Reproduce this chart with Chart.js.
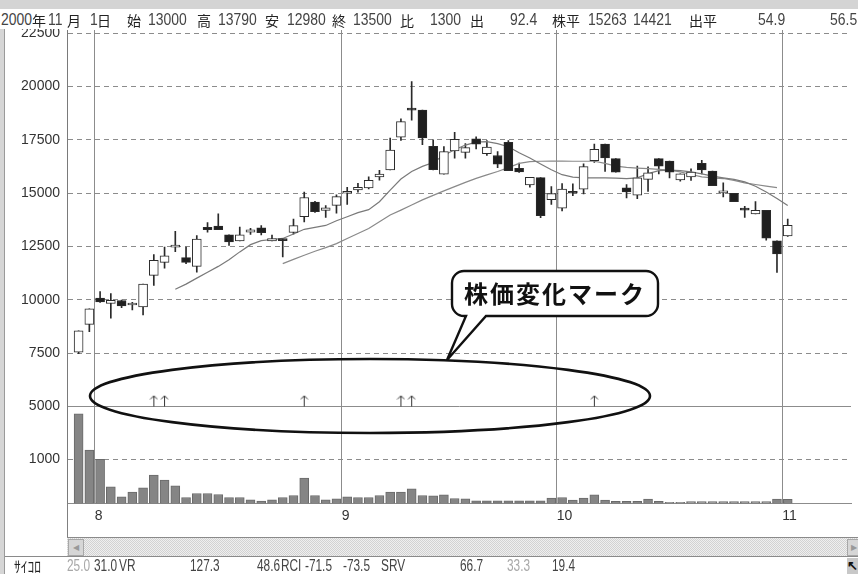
<!DOCTYPE html>
<html>
<head>
<meta charset="utf-8">
<script src="https://cdn.jsdelivr.net/npm/chart.js@4.4.1/dist/chart.umd.min.js"></script>
<style>
html, body { margin: 0; padding: 0; background: #fff; }
#wrap { position: relative; width: 858px; height: 574px; overflow: hidden; background: #fff; }
#chart { position: absolute; left: 0; top: 0; }
.abs { position: absolute; }
.n { position: absolute; font-family: "Liberation Sans", Arial, sans-serif; font-size: 17px; line-height: 18px; color: #444; transform: scaleX(0.82); transform-origin: 0 0; white-space: nowrap; }
.s { position: absolute; font-family: "Liberation Sans", Arial, sans-serif; font-size: 16px; line-height: 16px; color: #444; transform: scaleX(0.74); transform-origin: 0 0; white-space: nowrap; }
.k { position: absolute; font-family: "Noto Sans CJK JP", sans-serif; font-size: 14px; line-height: 18px; color: #222; white-space: nowrap; }
.ks { position: absolute; font-family: "Noto Sans CJK JP", sans-serif; font-size: 15px; line-height: 16px; color: #222; white-space: nowrap; transform: scaleX(0.9); transform-origin: 0 0; }
.g { color: #a8a8a8; }
</style>
</head>
<body>
<div id="wrap">
  <canvas id="chart" width="858" height="574"></canvas>
  <div class="abs" style="left:0;top:0;width:858px;height:9px;background:#d4d4d4;"></div>
  <div class="abs" style="left:0;top:9px;width:858px;height:20px;background:#fff;"></div>
  <div id="header"></div>
  <div class="abs" style="left:0;top:29px;width:4px;height:545px;background:#d6d6d6;border-right:1px solid #9a9a9a;"></div>
  <div class="abs" style="left:67px;top:503px;width:1px;height:34px;background:#808080;"></div>
  <div class="abs" style="left:67px;top:537px;width:791px;height:18px;border-top:1px solid #8a8a8a;border-bottom:1px solid #8a8a8a;background:repeating-conic-gradient(#d2d2d2 0 25%, #efefef 0 50%) 0 0/2px 2px;"></div>
  <div class="abs" style="left:68px;top:539px;width:14px;height:15px;background:#d6d6d6;border:1px solid #a8a8a8;font-size:8px;line-height:15px;text-align:center;color:#999;">&#9664;</div>
  <div class="abs" style="left:847px;top:539px;width:11px;height:15px;background:#d6d6d6;border:1px solid #a8a8a8;font-size:8px;line-height:15px;text-align:center;color:#999;">&#9654;</div>
  <div class="abs" style="left:5px;top:556px;width:853px;height:1px;background:#8a8a8a;"></div>
  <div class="abs" style="left:847px;top:558px;width:11px;height:16px;background:#c8c8c8;font-size:13px;line-height:16px;font-weight:bold;text-align:center;color:#111;">&#8598;</div>
  <div id="status"></div>
  <svg class="abs" style="left:0;top:0;" width="858" height="574">
    <ellipse cx="370" cy="396" rx="280" ry="37" fill="none" stroke="#111" stroke-width="2.6"/>
    <path d="M464,271 H646 A12,12 0 0 1 658,283 V304 A12,12 0 0 1 646,316 H486 L447,360 L466,316 H464 A12,12 0 0 1 452,304 V283 A12,12 0 0 1 464,271 Z" fill="#fff" stroke="#111" stroke-width="2.4"/>
    <text x="555" y="303" text-anchor="middle" font-family="Noto Sans CJK JP" font-weight="bold" font-size="24" letter-spacing="2" fill="#111">株価変化マーク</text>
  </svg>
</div>
<script>
// daily candles, 2000/7/28 .. 2000/11/1
const opens  = [7550, 8850, 10080, 9830, 9970, 9760, 9670, 11150, 11760, 12470,
                11980, 11570, 13400, 13460, 13050, 12770, 13180, 13380, 12770, 12790,
                13160, 13900, 14590, 14200, 14430, 15000, 15160, 15250, 15770, 16090,
                17630, 18950, 18900, 17200, 15890, 16980, 16920, 17550, 16860, 16770,
                17390, 16170, 15390, 15730, 14700, 14300, 15090, 15190, 16530, 17300,
                16620, 15250, 14910, 15650, 16620, 16510, 15630, 15770, 16400, 16040,
                15020, 15000, 14220, 14030, 14200, 12770, 13000];
const highs  = [8550, 9580, 10390, 10300, 9990, 9890, 10740, 12120, 12480, 13210,
                12480, 13020, 13620, 14040, 13050, 13410, 13350, 13480, 13040, 12830,
                13790, 15050, 14620, 14420, 14920, 15280, 15470, 15770, 16070, 17590,
                18490, 20240, 18900, 17500, 17190, 17860, 17330, 17640, 17470, 16950,
                17470, 16410, 15750, 15730, 15310, 15450, 15440, 16380, 17300, 17300,
                16620, 15410, 16270, 16240, 16620, 16510, 15910, 16150, 16540, 16040,
                15490, 15000, 14390, 14610, 14200, 12770, 13790];
const lows   = [7480, 8510, 9880, 9140, 9640, 9530, 9290, 10680, 11490, 12260,
                11700, 11300, 13180, 13290, 12550, 12770, 13070, 13040, 12770, 12010,
                13080, 13660, 14100, 13870, 14060, 14480, 15050, 15200, 15610, 16090,
                17480, 18430, 17280, 16090, 15890, 16640, 16640, 17080, 16770, 16200,
                16060, 15980, 15280, 13860, 14480, 14170, 14890, 14970, 16450, 16020,
                15990, 14780, 14750, 15090, 15910, 15720, 15570, 15600, 15910, 15360,
                14830, 14610, 13870, 14030, 12800, 11290, 12980];
const closes = [8550, 9580, 9900, 9980, 9720, 9770, 10740, 11850, 12060, 12560,
                11760, 12850, 13290, 13290, 12720, 13050, 13280, 13150, 12880, 12780,
                13480, 14800, 14140, 14320, 14840, 15000, 15280, 15610, 15900, 17030,
                18360, 18900, 17590, 16100, 16950, 17530, 17140, 17300, 17170, 16360,
                16060, 16000, 15750, 13950, 14980, 15190, 15000, 16250, 17060, 16660,
                15990, 15060, 15720, 15960, 16270, 15990, 15910, 15990, 16090, 15360,
                15110, 14610, 14210, 14200, 12890, 12160, 13500];
const volumes = [2025, 1205, 1000, 377, 151, 257, 354, 641, 528, 400,
                 135, 226, 226, 203, 135, 135, 84, 54, 84, 135,
                 180, 573, 180, 84, 106, 151, 135, 135, 180, 257,
                 257, 332, 180, 174, 196, 113, 106, 60, 60, 60,
                 60, 60, 60, 60, 122, 135, 77, 122, 196, 77,
                 50, 50, 50, 99, 50, 25, 25, 45, 45, 45,
                 45, 45, 45, 45, 45, 99, 92];

// moving averages as drawn (10 day from day 9, 20 day from day 19)
const ma10From = 9;
const ma10 = [10500, 10740, 11020, 11300, 11570, 11880, 12250, 12590, 12780, 12830,
              12880, 13090, 13310, 13400, 13490, 13710, 13900, 14090, 14230, 14600,
              15150, 15670, 16020, 16260, 16440, 16780, 17040, 17260, 17400, 17420,
              17330, 17180, 16900, 16650, 16370, 16100, 15870, 15760, 15720, 15720,
              15720, 15710, 15690, 15720, 15920, 16060, 16080, 16060, 16000, 15910,
              15800, 15720, 15650, 15530, 15330, 15060, 14750, 14420];
const ma20From = 19;
const ma20 = [11700, 11900, 12090, 12280, 12450, 12640, 12880, 13110, 13350, 13660,
              13980, 14210, 14450, 14690, 14900, 15110, 15310, 15510, 15700, 15860,
              16020, 16200, 16400, 16480, 16500, 16510, 16510, 16500, 16500, 16500,
              16400, 16270, 16210, 16180, 16150, 16120, 16080, 16000, 15880, 15770,
              15720, 15690, 15600, 15490, 15410, 15330, 15260];

const monthStarts = [2, 25, 45, 66];
const monthLabels = ['8', '9', '10', '11'];
const markDays = [7, 8, 21, 30, 31, 48];
const priceTicks = [5000, 7500, 10000, 12500, 15000, 17500, 20000, 22500];
const volumeTicks = [1000];

const header = [
  ['2000', 1, 'n'], ['年', 32, 'k'], ['11', 48, 'n'], ['月', 67, 'k'], ['1', 90, 'n'], ['日', 97, 'k'],
  ['始', 127, 'k'], ['13000', 148, 'n'], ['高', 197, 'k'], ['13790', 218, 'n'],
  ['安', 265, 'k'], ['12980', 287, 'n'], ['終', 332, 'k'], ['13500', 353, 'n'],
  ['比', 400, 'k'], ['1300', 430, 'n'], ['出', 470, 'k'], ['92.4', 510, 'n'],
  ['株平', 552, 'k'], ['15263', 588, 'n'], ['14421', 633, 'n'], ['出平', 689, 'k'],
  ['54.9', 758, 'n'], ['56.5', 830, 'n']
];
const status = [
  ['ｻｲｺﾛ', 14, 'ks'], ['25.0', 67, 's g'], ['31.0', 94, 's'], ['VR', 119, 's'], ['127.3', 190, 's'],
  ['48.6', 257, 's'], ['RCI', 281, 's'], ['-71.5', 305, 's'], ['-73.5', 343, 's'], ['SRV', 381, 's'],
  ['66.7', 460, 's'], ['33.3', 507, 's g'], ['19.4', 552, 's']
];

function putText(id, items, top) {
  const box = document.getElementById(id);
  items.forEach(([t, x, cls]) => {
    const s = document.createElement('span');
    s.className = cls;
    s.textContent = t;
    s.style.left = x + 'px';
    s.style.top = top + 'px';
    box.appendChild(s);
  });
}
putText('header', header, 11);
putText('status', status, 558);

// little up arrow used as point style for the marks
const arrow = document.createElement('canvas');
arrow.width = 9; arrow.height = 12;
const ac = arrow.getContext('2d');
ac.strokeStyle = '#333'; ac.lineWidth = 1;
ac.beginPath();
ac.moveTo(4.5, 1); ac.lineTo(4.5, 12);
ac.moveTo(1, 4.5); ac.lineTo(4.5, 1); ac.lineTo(8, 4.5);
ac.stroke();

const idx = opens.map((_, i) => i);
const gridColor = '#8c8c8c';
const tickFont = { family: 'Liberation Sans', size: 14 };

new Chart(document.getElementById('chart'), {
    type: 'bar',
    data: {
        datasets: [{
            data: markDays.map(i => ({ x: i, y: 5270 })),
            type: 'line', yAxisID: 'y', showLine: false,
            pointStyle: arrow, pointRadius: 6, order: 0
        }, {
            data: idx.map(i => ({ x: i, y: [opens[i], closes[i]] })),
            yAxisID: 'y', grouped: false, order: 1,
            backgroundColor: ctx => closes[ctx.dataIndex] >= opens[ctx.dataIndex] ? '#ffffff' : '#1f1f1f',
            borderColor: '#2a2a2a', borderWidth: 1, borderSkipped: false,
            barThickness: 9, minBarLength: 2
        }, {
            data: ma10.map((v, j) => ({ x: j + ma10From, y: v })),
            type: 'line', yAxisID: 'y', order: 2,
            borderColor: '#7a7a7a', borderWidth: 1.2, pointRadius: 0, tension: 0
        }, {
            data: ma20.map((v, j) => ({ x: j + ma20From, y: v })),
            type: 'line', yAxisID: 'y', order: 2,
            borderColor: '#8a8a8a', borderWidth: 1.2, pointRadius: 0, tension: 0
        }, {
            data: idx.map(i => ({ x: i, y: [lows[i], highs[i]] })),
            yAxisID: 'y', grouped: false, order: 3,
            backgroundColor: '#2a2a2a', borderWidth: 0, barThickness: 1
        }, {
            data: idx.map(i => ({ x: i, y: volumes[i] })),
            yAxisID: 'yv', grouped: false, order: 4,
            backgroundColor: '#858585', borderColor: '#6a6a6a', borderWidth: 1,
            borderSkipped: false, barThickness: 9
        }]
    },
    options: {
        responsive: false,
        animation: false,
        layout: { padding: { left: 5, top: 30, right: 0, bottom: 40.5 } },
        plugins: { legend: { display: false }, tooltip: { enabled: false } },
        scales: {
            x: {
                type: 'linear', min: -1.08, max: 71.89, offset: false,
                grid: { color: gridColor, offset: false, drawTicks: false },
                border: { color: gridColor },
                afterBuildTicks: s => { s.ticks = monthStarts.map(i => ({ value: i - 0.5 })); },
                afterFit: s => { s.height = 30; },
                ticks: {
                    autoSkip: false, maxRotation: 0, align: 'start', padding: 4,
                    color: '#333', font: tickFont,
                    callback: (v, i) => monthLabels[i]
                }
            },
            y: {
                type: 'linear', position: 'left', stack: 'panel', stackWeight: 376.5, weight: 1,
                min: 5000, max: 22655,
                grid: { color: gridColor, drawTicks: false },
                border: { color: '#7a7a7a', dash: ctx => (ctx.tick && ctx.tick.value === 5000) ? [] : [5, 4] },
                afterBuildTicks: s => { s.ticks = priceTicks.map(v => ({ value: v })); },
                afterFit: s => { s.width = 62; },
                ticks: { padding: 7, color: '#333', font: tickFont, callback: v => String(v) }
            },
            yv: {
                type: 'linear', position: 'left', stack: 'panel', stackWeight: 97, weight: 0,
                min: 0, max: 2190,
                grid: { color: gridColor, drawTicks: false },
                border: { color: '#7a7a7a', dash: [5, 4] },
                afterBuildTicks: s => { s.ticks = volumeTicks.map(v => ({ value: v })); },
                afterFit: s => { s.width = 62; },
                ticks: { padding: 7, color: '#333', font: tickFont, callback: v => String(v) }
            }
        }
    }
});
</script>
</body>
</html>
